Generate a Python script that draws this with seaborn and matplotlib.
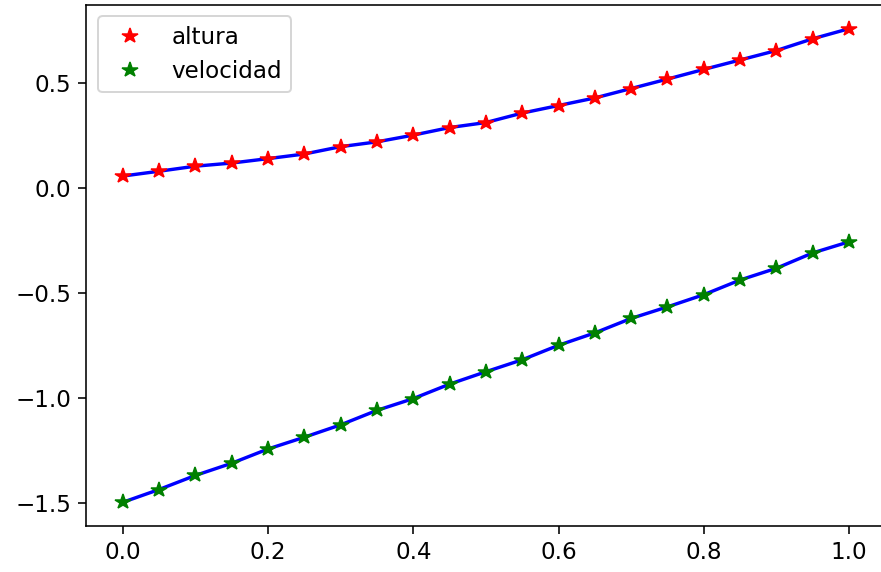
import matplotlib
matplotlib.use("Agg")
import matplotlib.pyplot as plt
import seaborn as sns
import numpy as np

t = [0.0, 0.05, 0.1, 0.15, 0.2, 0.25, 0.3, 0.35, 0.4, 0.45, 0.5,
     0.55, 0.6, 0.65, 0.7, 0.75, 0.8, 0.85, 0.9, 0.95, 1.0]
altura = [0.055, 0.078, 0.102, 0.117, 0.138, 0.160, 0.195, 0.218, 0.250, 0.286, 0.310,
          0.355, 0.391, 0.427, 0.472, 0.517, 0.563, 0.608, 0.653, 0.709, 0.757]
velocidad = [-1.499, -1.438, -1.371, -1.313, -1.245, -1.189, -1.130, -1.061, -1.005, -0.936, -0.877,
             -0.820, -0.751, -0.692, -0.623, -0.568, -0.510, -0.440, -0.384, -0.311, -0.258]

dpi = 144
fig = plt.figure(figsize=(881 / dpi, 572 / dpi), dpi=dpi)
ax = fig.add_axes([86.4 / 881, 1 - 526 / 572, 799 / 881, 521 / 572])

sns.lineplot(x=t, y=altura, color="blue", lw=1.7, ax=ax, zorder=1)
sns.lineplot(x=t, y=velocidad, color="blue", lw=1.7, ax=ax, zorder=1)
sns.lineplot(x=t, y=altura, color="red", marker="*", linestyle="", markersize=8,
             markeredgecolor="red", label="altura", ax=ax, zorder=3)
sns.lineplot(x=t, y=velocidad, color="green", marker="*", linestyle="", markersize=8,
             markeredgecolor="green", label="velocidad", ax=ax, zorder=3)

ax.set_xticks([0.0, 0.2, 0.4, 0.6, 0.8, 1.0])
ax.set_yticks([-1.5, -1.0, -0.5, 0.0, 0.5])
ax.tick_params(labelsize=11.5, length=4)
ax.spines["right"].set_visible(False)
ax.legend(loc="upper left", fontsize=11.5)
fig.savefig("out.png", dpi=dpi)
